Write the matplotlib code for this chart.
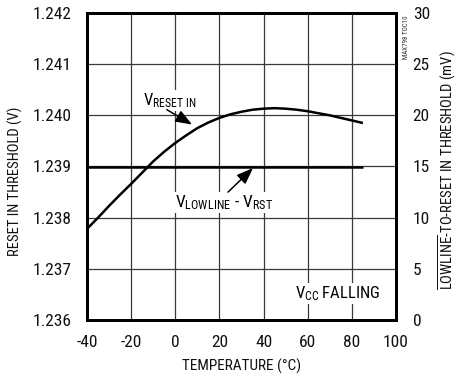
import matplotlib
matplotlib.use("Agg")
import matplotlib.pyplot as plt
import warnings
warnings.filterwarnings("ignore")

FAM = ['Roboto Condensed', 'Archivo Narrow', 'Liberation Sans', 'DejaVu Sans']
plt.rcParams['font.family'] = FAM
plt.rcParams['axes.unicode_minus'] = False
plt.rcParams['mathtext.fontset'] = 'custom'
plt.rcParams['mathtext.rm'] = 'Roboto Condensed'
plt.rcParams['mathtext.it'] = 'Roboto Condensed'
plt.rcParams['mathtext.bf'] = 'Roboto Condensed'

# Data
temp = [-40, -35, -30, -25, -20, -15, -10, -5, 0, 5, 10, 15, 20, 25, 30,
        35, 40, 45, 50, 55, 60, 65, 70, 75, 80, 85]
v_reset_in = [1.23778, 1.23800, 1.23823, 1.23845, 1.23866, 1.23888, 1.23910,
              1.23929, 1.23946, 1.23961, 1.23975, 1.23986, 1.23995, 1.24002,
              1.24007, 1.24011, 1.24013, 1.24014, 1.24013, 1.24011, 1.24008,
              1.24004, 1.24000, 1.23995, 1.23990, 1.23985]
temp_lowline = [-40, 85]
lowline_mv = [15, 15]

xticks = [-40, -20, 0, 20, 40, 60, 80, 100]
yticks = [1.236, 1.237, 1.238, 1.239, 1.240, 1.241, 1.242]
yticklabels = ['1.236', '1.237', '1.238', '1.239', '1.240', '1.241', '1.242']
y2ticks = [0, 5, 10, 15, 20, 25, 30]

W, H = 458, 381
fig = plt.figure(figsize=(W/100, H/100), dpi=100)
ax = fig.add_axes([87/W, 1-320/H, 309/W, 307/H])
ax2 = ax.twinx()

ax.set_xlim(-40, 100)
ax.set_ylim(1.236, 1.242)
ax2.set_ylim(0, 30)

ax.set_xticks(xticks)
ax.set_yticks(yticks)
ax.set_yticklabels(yticklabels)
ax2.set_yticks(y2ticks)

ax.grid(True, color='#3a3a3a', linewidth=0.9)
ax.set_axisbelow(True)

ax.tick_params(axis='both', length=0, pad=11, labelsize=12.5, colors='#111111')
ax2.tick_params(axis='y', length=0, pad=12, labelsize=12.5, colors='#111111')

for s in ax.spines.values():
    s.set_linewidth(2.0)
for s in ax2.spines.values():
    s.set_linewidth(2.0)

ax.plot(temp, v_reset_in, color='black', linewidth=1.8, solid_capstyle='butt', zorder=3)
ax2.plot(temp_lowline, lowline_mv, color='black', linewidth=1.8, solid_capstyle='butt', zorder=3)

# Axis titles
fig.text(242/W, 1-366/H, 'TEMPERATURE (°C)', fontsize=11, ha='center', va='center', color='#111111')
fig.text(15/W, 1-181/H, 'RESET IN THRESHOLD (V)', fontsize=10.5, rotation=90,
         ha='center', va='center', color='#111111')
fig.text(447/W, 1-170/H, r'$\overline{\mathrm{LOWLINE}}$-TO-RESET IN THRESHOLD (mV)', fontsize=10.5,
         rotation=90, ha='center', va='center', color='#111111')

bb = dict(facecolor='white', edgecolor='none', pad=1.0)
arrow = dict(arrowstyle='-|>,head_length=1.0,head_width=0.38', color='black', lw=1.1,
             shrinkA=0, shrinkB=0, mutation_scale=10)
ax.text(-14.6, 1.2402, r'V$_{\mathrm{RESET\ IN}}$', fontsize=12, ha='left', va='baseline', bbox=bb, zorder=4)
ax.annotate('', xy=(7.6, 1.23982), xytext=(-3.8, 1.24011), arrowprops=arrow, zorder=4)
ax.text(0, 1.23821, r'V$_{\mathrm{LOWLINE}}$ - V$_{\mathrm{RST}}$', fontsize=12.5, ha='left', va='baseline', bbox=bb, zorder=4)
ax.annotate('', xy=(35.2, 1.23897), xytext=(23.9, 1.2385), arrowprops=arrow, zorder=4)
ax.text(54.2, 1.23643, r'V$_{\mathrm{CC}}$ FALLING', fontsize=12, ha='left', va='baseline', bbox=bb, zorder=4)

fig.text(406/W, 1-37/H, 'MAX798 TOC10', rotation=90, fontsize=5, ha='center', va='center', color='#333333')

fig.savefig('out.png', dpi=100)
